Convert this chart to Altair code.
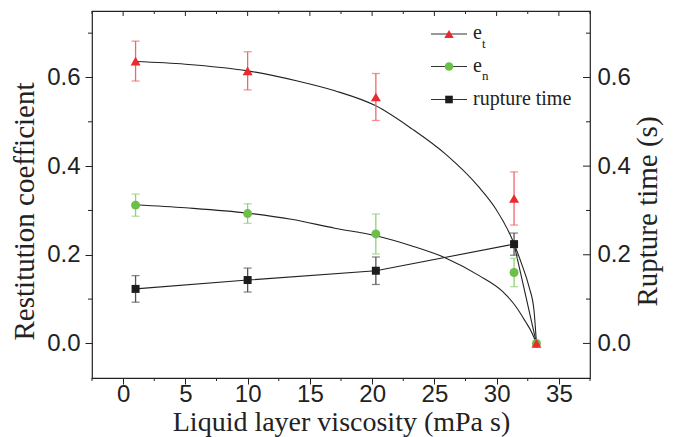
import altair as alt
import pandas as pd

# ---- measured points -------------------------------------------------------
viscosity = [1.0, 10.0, 20.3, 31.4, 33.2]

e_t = [0.637, 0.615, 0.556, 0.327, 0.0]
e_t_err = [0.045, 0.043, 0.053, 0.060, 0.0]

e_n = [0.312, 0.293, 0.247, 0.160, 0.0]
e_n_err = [0.025, 0.022, 0.045, 0.032, 0.0]

rupture_visc = [1.0, 10.0, 20.3, 31.4]
rupture = [0.123, 0.143, 0.164, 0.224]
rupture_err = [0.030, 0.027, 0.031, 0.025]

# ---- trend lines -------------------------------------------------------------
fit_t_x = [1.0, 5.0, 10.0, 14.0, 17.0, 20.3, 23.2, 25.9, 28.6, 29.9, 31.25, 32.0, 32.6, 33.0, 33.2]
fit_t_y = [0.636, 0.630, 0.615, 0.592, 0.570, 0.536, 0.484, 0.427, 0.352, 0.305, 0.235, 0.180, 0.128, 0.075, 0.0]

fit_n_x = [1.0, 5.0, 10.0, 13.5, 17.0, 20.3, 23.2, 25.9, 28.6, 30.45, 31.5, 32.3, 32.8, 33.2]
fit_n_y = [0.313, 0.306, 0.294, 0.280, 0.260, 0.243, 0.220, 0.193, 0.153, 0.118, 0.085, 0.050, 0.026, 0.0]

fit_r_x = [1.0, 10.0, 20.3, 31.4, 33.2]
fit_r_y = [0.123, 0.143, 0.164, 0.224, 0.0]

# ---- axis ticks ----------------------------------------------------------------
x_major = [0, 5, 10, 15, 20, 25, 30, 35]
x_minor = [-2.5, 2.5, 7.5, 12.5, 17.5, 22.5, 27.5, 32.5, 37.5]
y_major = [0.0, 0.2, 0.4, 0.6]
y_minor = [0.1, 0.3, 0.5, 0.7]

# ---- legend labels -------------------------------------------------------------
legend_main = ["e", "e", "rupture time"]
legend_sub = ["t", "n", ""]

# ---- styling -------------------------------------------------------------------
W, H = 498, 367
INK = "#222222"
SANS = "Liberation Sans"
SERIF = "Liberation Serif"
RED, RED_ERR = "#ea2a2e", "#f0676b"
GREEN, GREEN_ERR = "#6cbf48", "#92cf77"
BLACK, BLACK_ERR = "#1c1c1c", "#555555"
X_TITLE = "Liquid layer viscosity (mPa s)"

xs = alt.Scale(domain=[-2.5, 37.5], nice=False, zero=False)
ys = alt.Scale(domain=[-0.078, 0.75], nice=False, zero=False)

x_axis = alt.Axis(
    values=x_major, format="d", orient="bottom", domain=False, grid=False,
    tickSize=6, tickColor=INK, tickWidth=1,
    labelFont=SANS, labelFontSize=24, labelColor=INK,
    labelBaseline="middle", labelPadding=10,
    title=X_TITLE, titleFont=SERIF, titleFontSize=28, titleFontWeight="normal",
    titleColor=INK, titleBaseline="middle", titleY=44,
)

left_axis = alt.Axis(
    values=y_major, format=".1f", orient="left", domain=False, grid=False,
    tickSize=7, tickColor=INK, tickWidth=1,
    labelFont=SANS, labelFontSize=24, labelColor=INK, labelPadding=5,
    title="Restitution coefficient", titleFont=SERIF, titleFontSize=29,
    titleFontWeight="normal", titleColor=INK, titleAngle=270,
    titleAlign="center", titleBaseline="middle", titleX=-68, titleY=200,
)

right_axis = alt.Axis(
    values=y_major, format=".1f", orient="right", domain=False, grid=False,
    ticks=False, labelFont=SANS, labelFontSize=24, labelColor=INK, labelPadding=7,
    title="Rupture time (s)", titleFont=SERIF, titleFontSize=29,
    titleFontWeight="normal", titleColor=INK, titleAngle=270,
    titleAlign="center", titleBaseline="middle", titleX=57, titleY=200,
)


def xenc(field="x"):
    return alt.X(f"{field}:Q", scale=xs, axis=x_axis, title=X_TITLE)


def yenc(field="y", axis=None):
    return alt.Y(f"{field}:Q", scale=ys, axis=axis)


def frame(xv, yv, err=None):
    d = pd.DataFrame({"x": xv, "y": yv})
    if err is not None:
        d["lo"] = [a - b for a, b in zip(yv, err)]
        d["hi"] = [a + b for a, b in zip(yv, err)]
        d = d[[e > 0 for e in err]]
    return d


layers = []

# frame ticks: inward on top and right, minor ticks outside on bottom and left
tick_style = dict(color=INK, strokeWidth=1)
layers.append(alt.Chart(pd.DataFrame({"x": x_major})).mark_rule(**tick_style).encode(
    x=xenc(), y=alt.value(0), y2=alt.value(5)))
layers.append(alt.Chart(pd.DataFrame({"x": x_minor})).mark_rule(**tick_style).encode(
    x=xenc(), y=alt.value(0), y2=alt.value(3)))
layers.append(alt.Chart(pd.DataFrame({"x": x_minor})).mark_rule(**tick_style).encode(
    x=xenc(), y=alt.value(H), y2=alt.value(H + 3)))
layers.append(alt.Chart(pd.DataFrame({"y": y_minor})).mark_rule(**tick_style).encode(
    y=yenc(), x=alt.value(-4), x2=alt.value(0)))
layers.append(alt.Chart(pd.DataFrame({"y": y_major})).mark_rule(**tick_style).encode(
    y=yenc(), x=alt.value(W - 7), x2=alt.value(W)))
layers.append(alt.Chart(pd.DataFrame({"y": y_minor})).mark_rule(**tick_style).encode(
    y=yenc(), x=alt.value(W - 4), x2=alt.value(W)))

# trend lines
line_style = dict(color=INK, strokeWidth=1.1, interpolate="monotone")
layers.append(alt.Chart(frame(fit_t_x, fit_t_y)).mark_line(**line_style).encode(
    x=xenc(), y=yenc(axis=left_axis)))
layers.append(alt.Chart(frame(fit_n_x, fit_n_y)).mark_line(**line_style).encode(
    x=xenc(), y=yenc()))
layers.append(alt.Chart(frame(fit_r_x, fit_r_y)).mark_line(color=INK, strokeWidth=1.1).encode(
    x=xenc(), y=yenc(axis=right_axis)))

# error bars
for xv, yv, err, col in [
    (rupture_visc, rupture, rupture_err, BLACK_ERR),
    (viscosity, e_n, e_n_err, GREEN_ERR),
    (viscosity, e_t, e_t_err, RED_ERR),
]:
    d = frame(xv, yv, err)
    layers.append(alt.Chart(d).mark_rule(color=col, strokeWidth=1.3).encode(
        x=xenc(), y=yenc("lo"), y2="hi:Q"))
    for end in ["lo", "hi"]:
        layers.append(alt.Chart(d).mark_tick(
            color=col, orient="horizontal", size=8, thickness=1.3).encode(
            x=xenc(), y=yenc(end)))

# markers
layers.append(alt.Chart(frame(rupture_visc, rupture)).mark_point(
    shape="square", filled=True, opacity=1, color=BLACK, size=64).encode(x=xenc(), y=yenc()))
layers.append(alt.Chart(frame(viscosity, e_n)).mark_point(
    shape="circle", filled=True, opacity=1, color=GREEN, size=80).encode(x=xenc(), y=yenc()))
layers.append(alt.Chart(frame(viscosity, e_t)).mark_point(
    shape="triangle-up", filled=True, opacity=1, color=RED, size=100).encode(x=xenc(), y=yenc()))

# legend (upper right, inside the frame)
one = pd.DataFrame({"k": [0]})
leg_rows = [23, 55.5, 88.5]
leg_marks = [("triangle-up", RED, 90), ("circle", GREEN, 75), ("square", BLACK, 58)]
for row, main, sub, (shape, col, sz) in zip(leg_rows, legend_main, legend_sub, leg_marks):
    layers.append(alt.Chart(one).mark_rule(color="#333333", strokeWidth=1.1).encode(
        x=alt.value(339), x2=alt.value(375), y=alt.value(row)))
    layers.append(alt.Chart(one).mark_point(
        shape=shape, filled=True, opacity=1, color=col, size=sz).encode(
        x=alt.value(357), y=alt.value(row)))
    layers.append(alt.Chart(one).mark_text(
        text=main, font=SERIF, fontSize=20, color=INK, align="left",
        baseline="alphabetic").encode(x=alt.value(381), y=alt.value(row + 5)))
    if sub:
        layers.append(alt.Chart(one).mark_text(
            text=sub, font=SERIF, fontSize=13, color=INK, align="left",
            baseline="alphabetic").encode(x=alt.value(390), y=alt.value(row + 13.5)))

chart = (
    alt.layer(*layers)
    .properties(
        width=W, height=H,
        autosize=alt.AutoSizeParams(type="none"),
        padding={"left": 92, "top": 11, "right": 90, "bottom": 59},
        background="white",
    )
    .resolve_scale(y="shared", x="shared")
    .resolve_axis(y="independent")
    .configure_view(stroke=INK, strokeWidth=1.2)
    .configure_axis(titleFont=SERIF, labelFont=SANS, titleFontWeight="normal")
)

chart.save("out.html", embed_options={"renderer": "svg", "actions": False})
